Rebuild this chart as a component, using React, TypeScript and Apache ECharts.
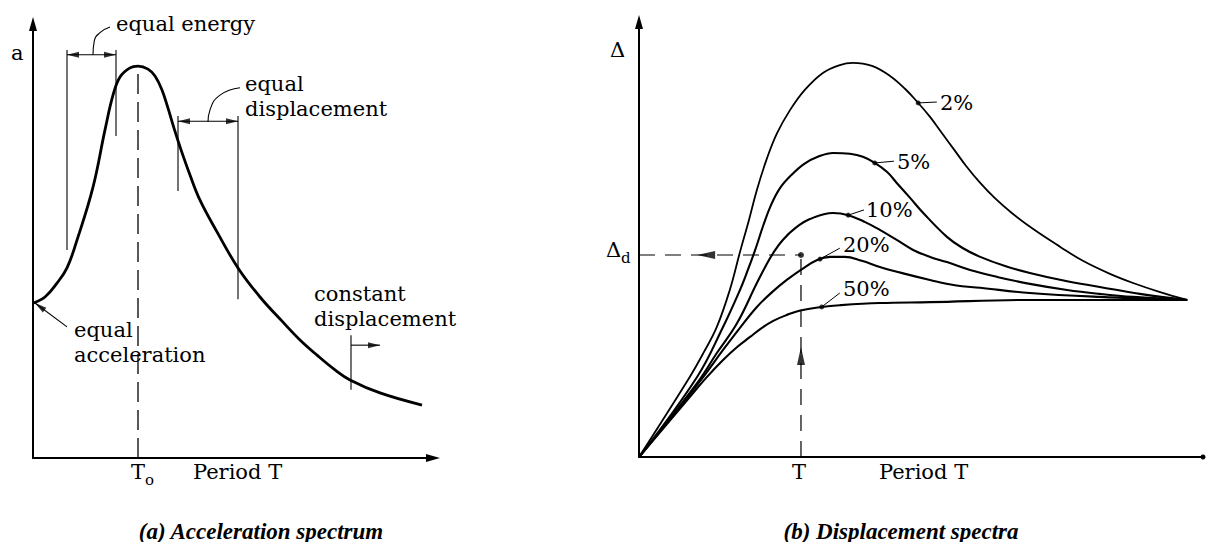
import React, { useEffect, useRef } from 'react';
import * as echarts from 'echarts';

// ---------- (a) Acceleration spectrum (arbitrary units 0..100) ----------
const accelPeriod = [0, 3, 6, 8.5, 11, 15, 18, 20, 21.75, 24.25, 26.25, 28.75, 30.5, 32.25, 33.75, 35.25, 36.75, 39.25, 41.75, 46, 51.25, 56.75, 62.5, 66.75, 71, 75.5, 79.25, 86.75, 97.25];
const accelValue = [35.7, 37.1, 40.3, 43.8, 50.2, 62.4, 75.6, 83.6, 87.8, 89.9, 90.3, 89.6, 88.0, 84.8, 80.6, 76.0, 71.7, 65.2, 59.4, 52.1, 43.8, 37.1, 31.3, 27.2, 23.7, 20.3, 18.0, 15.0, 12.2];
const T0 = 26.25;
const accelPeak = 90.2;

// annotation brackets (period, level)
const energyBracket = [8.5, 20.75];
const energyTop = 94.0;
const energyBottoms = [47.9, 74.2];
const energyArrowLevel = 92.9;
const energyLeader = [[15, 92.9], [15.3, 96.0], [16.75, 98.0], [19.25, 99.3]];

const dispBracket = [36.25, 51.25];
const dispTop = 78.8;
const dispBottoms = [61.5, 36.6];
const dispArrowLevel = 77.6;
const dispLeader = [[43.75, 77.4], [44.25, 80.2], [46.75, 83.6], [51.75, 85.3]];

const constDispT = 79.5;
const constDispRange = [15.7, 28.3];
const constDispArrow = [[79.5, 26.0], [86.75, 26.0]];

const equalAccelArrow = [[8.5, 30.2], [0.5, 35.7]];

// ---------- (b) Displacement spectra ----------
const dampingLabels = ['2%', '5%', '10%', '20%', '50%'];
const period2 = [0, 9.0, 11.5, 13.8, 16.1, 17.9, 19.5, 20.9, 22.7, 24.5, 26.8, 29.4, 32.6, 35.6, 37.9, 41.3, 44.5, 47.2, 49.5, 51.6, 53.7, 55.9, 58.0, 60.5, 63.1, 66.1, 69.9, 74.7, 78.7, 83.5, 87.6, 92.4, 97.2];
const disp2 = [0, 18.4, 24.1, 29.9, 38.4, 47.1, 54.5, 61.4, 68.7, 74.5, 79.8, 84.4, 88.3, 90.1, 90.6, 89.9, 87.6, 84.6, 81.4, 78.2, 74.5, 70.6, 66.9, 63.0, 59.5, 56.1, 52.4, 48.3, 45.1, 42.1, 40.0, 37.9, 36.1];
const period5 = [0, 10.3, 14.9, 17.9, 19.3, 20.6, 22.0, 23.4, 25.0, 27.0, 29.3, 31.7, 34.4, 37.4, 39.7, 41.8, 44.0, 45.7, 48.1, 50.4, 54.6, 57.3, 60.5, 64.9, 69.3, 75.5, 81.7, 88.8, 97.2];
const disp5 = [0, 18.4, 29.9, 38.4, 43.0, 47.6, 53.1, 57.9, 61.8, 64.8, 67.4, 69.0, 69.9, 69.7, 69.0, 67.6, 65.5, 63.0, 59.5, 56.1, 50.6, 48.1, 46.0, 43.9, 42.3, 40.5, 39.1, 37.5, 36.1];
const period10 = [0, 10.3, 13.8, 17.4, 20.9, 22.3, 23.8, 25.5, 27.7, 30.3, 34.4, 37.1, 40.1, 42.7, 45.7, 48.6, 51.6, 54.6, 58.7, 63.5, 69.3, 75.9, 81.7, 87.6, 97.2];
const disp10 = [0, 17.0, 23.9, 30.8, 40.0, 43.5, 46.9, 49.9, 52.6, 54.7, 56.1, 55.6, 54.0, 52.2, 49.9, 47.6, 46.0, 44.8, 43.0, 41.4, 39.8, 38.4, 37.5, 36.8, 36.1];
const period20 = [0, 7.8, 11.4, 14.9, 17.9, 20.9, 23.6, 26.2, 28.9, 31.6, 33.9, 36.5, 39.5, 42.7, 47.2, 51.6, 56.0, 60.5, 69.3, 81.7, 97.2];
const disp20 = [0, 12.4, 18.4, 24.6, 29.7, 34.5, 37.9, 40.7, 43.2, 45.3, 46.0, 46.0, 45.1, 43.7, 42.1, 40.7, 39.5, 38.9, 37.7, 36.8, 36.1];
const period50 = [0, 9.0, 11.9, 14.9, 17.4, 19.7, 21.8, 23.8, 26.1, 28.6, 32.4, 35.6, 42.7, 51.6, 69.3, 97.2];
const disp50 = [0, 13.8, 18.2, 22.3, 25.3, 27.6, 29.7, 31.3, 32.6, 33.7, 34.5, 34.9, 35.4, 35.6, 36.1, 36.1];

// label dots on each curve and leader ends
const labelDotPeriod = [49.5, 41.8, 37.1, 32.1, 32.4];
const labelDotDisp = [81.4, 67.6, 55.6, 45.5, 34.5];
const leaderEndPeriod = [52.8, 45.2, 39.9, 35.6, 35.6];
const leaderEndDisp = [81.6, 68.0, 56.8, 48.0, 37.7];

const designT = 28.72;
const designDisp = 46.44;

const FONT = 'DejaVu Serif';
const FS = 21;

const zip = (xs: number[], ys: number[]) => xs.map((x, i) => [x, ys[i]]);

const axis = (sym: string[], size: number[]) => ({
  type: 'value', min: 0, max: 100,
  axisTick: { show: false }, axisLabel: { show: false }, splitLine: { show: false },
  axisLine: { show: true, onZero: false, symbol: sym, symbolSize: size, lineStyle: { color: '#000', width: 2 } },
});

const seg = (gi: number, pts: number[][], width: number, type: any = 'solid', smooth: any = false) => ({
  type: 'line', xAxisIndex: gi, yAxisIndex: gi, data: pts, showSymbol: false, symbol: 'none',
  smooth, clip: false, silent: true, z: 3,
  lineStyle: { color: '#000', width, type },
});

const heads = (gi: number, items: any[], size: number[]) => ({
  type: 'scatter', xAxisIndex: gi, yAxisIndex: gi, clip: false, silent: true, z: 4,
  symbol: 'triangle', symbolSize: size,
  itemStyle: { color: '#000' },
  data: items,
});

const txt = (text: string, x: number, y: number, size = FS, extra: any = {}) => ({
  type: 'text', x, y, silent: true, z: 10,
  style: { text, fontFamily: FONT, fontSize: size, fill: '#000', align: 'left', verticalAlign: 'middle', ...extra },
});

export default function App() {
  const ref = useRef<HTMLDivElement>(null);
  useEffect(() => {
    const chart = echarts.init(ref.current!, null, { renderer: 'svg' });
    const series: any[] = [];
    // left curve
    series.push({ ...seg(0, zip(accelPeriod, accelValue), 2.8, 'solid', 0.4), z: 5 });
    series.push(seg(0, [[T0, 0], [T0, accelPeak]], 1.3, [20, 8]));
    // equal energy bracket
    series.push(seg(0, [[energyBracket[0], energyBottoms[0]], [energyBracket[0], energyTop]], 1.1));
    series.push(seg(0, [[energyBracket[1], energyBottoms[1]], [energyBracket[1], energyTop]], 1.1));
    series.push(seg(0, [[energyBracket[0], energyArrowLevel], [energyBracket[1], energyArrowLevel]], 1.1));
    series.push(seg(0, energyLeader, 1.1, 'solid', 0.5));
    // equal displacement bracket
    series.push(seg(0, [[dispBracket[0], dispBottoms[0]], [dispBracket[0], dispTop]], 1.1));
    series.push(seg(0, [[dispBracket[1], dispBottoms[1]], [dispBracket[1], dispTop]], 1.1));
    series.push(seg(0, [[dispBracket[0], dispArrowLevel], [dispBracket[1], dispArrowLevel]], 1.1));
    series.push(seg(0, dispLeader, 1.1, 'solid', 0.5));
    // constant displacement
    series.push(seg(0, [[constDispT, constDispRange[0]], [constDispT, constDispRange[1]]], 1.1));
    series.push(seg(0, constDispArrow, 1.1));
    // equal acceleration arrow
    series.push(seg(0, equalAccelArrow, 1.1));
    series.push(heads(0, [
      { value: [energyBracket[0] + 1.5, energyArrowLevel], symbolRotate: 90 },
      { value: [energyBracket[1] - 1.5, energyArrowLevel], symbolRotate: -90 },
      { value: [dispBracket[0] + 1.5, dispArrowLevel], symbolRotate: 90 },
      { value: [dispBracket[1] - 1.5, dispArrowLevel], symbolRotate: -90 },
      { value: [constDispArrow[1][0] - 1.5, constDispArrow[1][1]], symbolRotate: -90 },
      { value: [1.7, 34.9], symbolRotate: 53 },
    ], [6, 12]));

    // right curves
    const curves = [zip(period2, disp2), zip(period5, disp5), zip(period10, disp10), zip(period20, disp20), zip(period50, disp50)];
    curves.forEach((c, i) => series.push({ ...seg(1, c, i === 0 ? 1.8 : 2.1, 'solid', 0.4), name: dampingLabels[i], z: 5 }));
    // leaders
    dampingLabels.forEach((_, i) => series.push(seg(1, [[labelDotPeriod[i], labelDotDisp[i]], [leaderEndPeriod[i], leaderEndDisp[i]]], 1)));
    series.push({
      type: 'scatter', xAxisIndex: 1, yAxisIndex: 1, symbol: 'circle', symbolSize: 5, z: 6, silent: true,
      itemStyle: { color: '#000' }, data: zip(labelDotPeriod, labelDotDisp),
    });
    // design lines
    series.push(seg(1, [[0, designDisp], [designT, designDisp]], 1.2, [16, 10]));
    series.push(seg(1, [[designT, 0], [designT, designDisp]], 1.2, [16, 10]));
    series.push({
      type: 'scatter', xAxisIndex: 1, yAxisIndex: 1, symbol: 'circle', symbolSize: 6, z: 6, silent: true,
      itemStyle: { color: '#000' }, data: [[designT, designDisp]],
    });
    series.push(heads(1, [
      { value: [11.9, designDisp], symbolRotate: 90 },
      { value: [designT, 23.2], symbolRotate: 0 },
    ], [8, 18]));

    const cap = { align: 'center', fontFamily: 'Liberation Serif', fontWeight: 'bold', fontStyle: 'italic' };
    const graphic: any[] = [
      txt('a', 11, 53),
      txt('equal energy', 116, 24),
      txt('equal\ndisplacement', 245, 96, FS, { lineHeight: 25 }),
      txt('constant\ndisplacement', 314, 306, FS, { lineHeight: 25 }),
      txt('equal\nacceleration', 74, 342, FS, { lineHeight: 25 }),
      txt('T', 131, 472),
      txt('o', 145, 480, 15),
      txt('Period T', 193, 472),
      txt('Δ', 610, 50),
      txt('Δ', 606, 250),
      txt('d', 621, 258, 15),
      txt('T', 792, 472),
      txt('Period T', 879, 472),
      txt('2%', 940, 103),
      txt('5%', 897, 162),
      txt('10%', 866, 210),
      txt('20%', 843, 245),
      txt('50%', 843, 289),
      txt('(a) Acceleration spectrum', 261, 531, 23, cap),
      txt('(b) Displacement spectra', 901, 531, 23, cap),
    ];

    chart.setOption({
      animation: false,
      backgroundColor: '#fff',
      grid: [
        { left: 33, top: 24, width: 400, height: 434 },
        { left: 639, top: 22, width: 564, height: 435 },
      ],
      xAxis: [
        { ...axis(['none', 'triangle'], [8, 14]), gridIndex: 0 },
        { ...axis(['none', 'circle'], [5, 5]), gridIndex: 1 },
      ],
      yAxis: [
        { ...axis(['none', 'triangle'], [8, 14]), gridIndex: 0 },
        { ...axis(['none', 'triangle'], [8, 14]), gridIndex: 1 },
      ],
      series,
      graphic,
    });
    return () => chart.dispose();
  }, []);
  return <div ref={ref} style={{ position: 'absolute', left: 0, top: 0, width: 1207, height: 542, background: '#fff' }} />;
}
